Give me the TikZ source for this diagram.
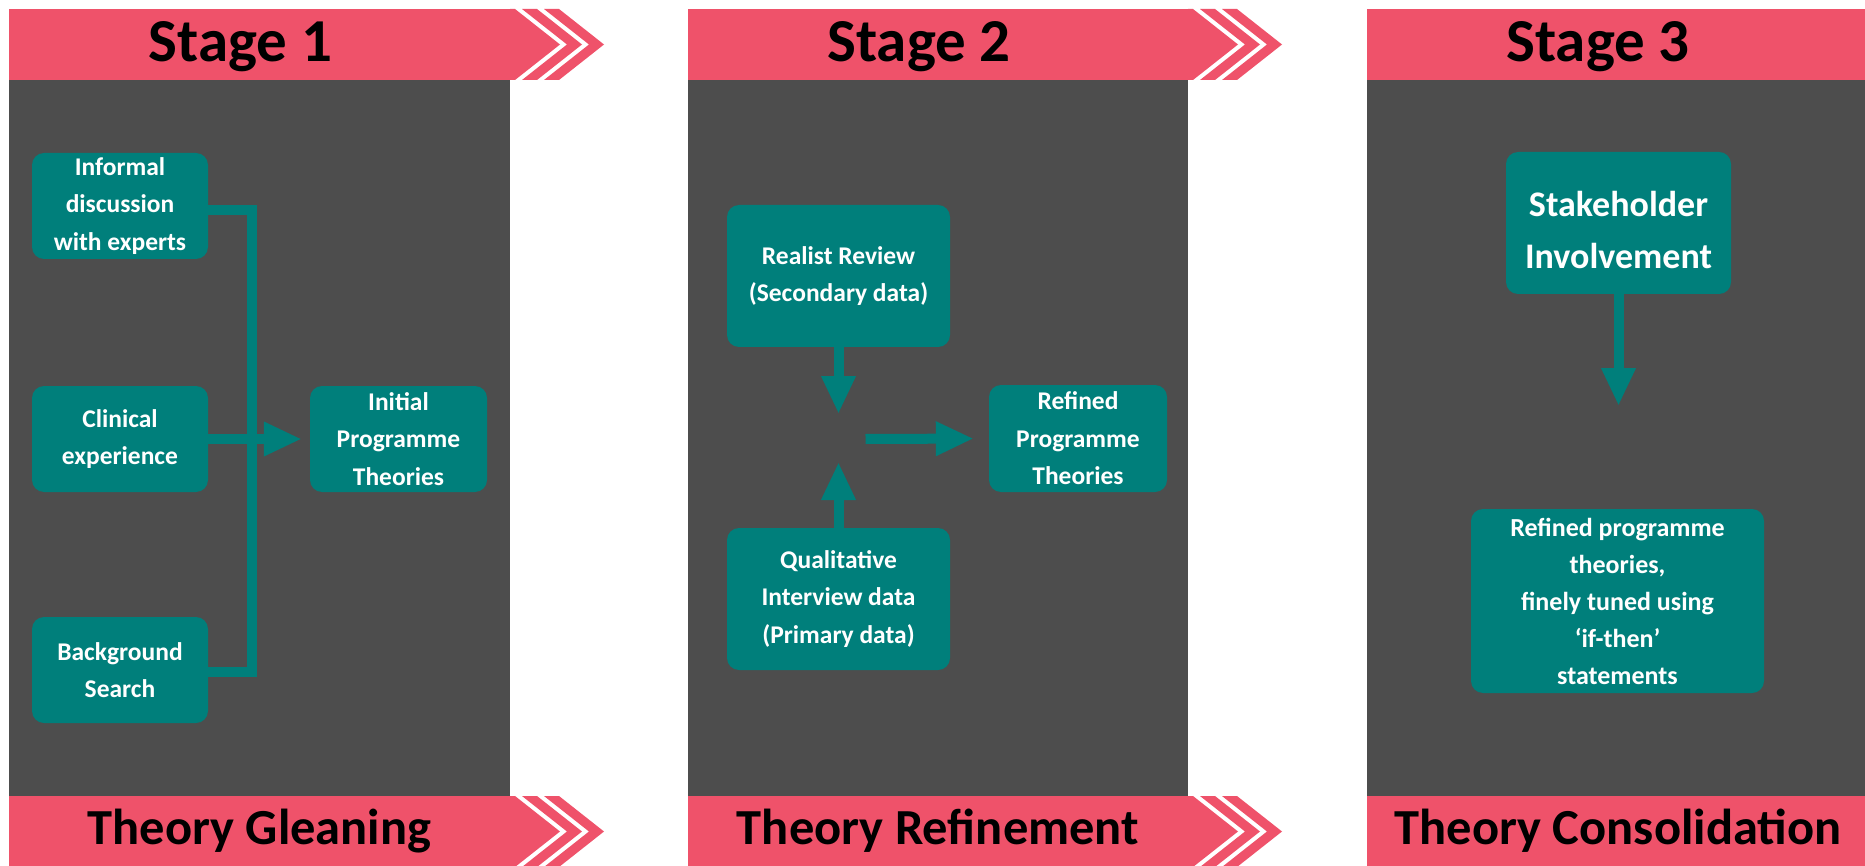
\documentclass[tikz,border=0pt]{standalone}
\usepackage{fontspec}
\setmainfont{Carlito}
\usetikzlibrary{arrows.meta}

\definecolor{bandpink}{RGB}{239,82,106}
\definecolor{paneldark}{RGB}{77,77,77}
\definecolor{boxteal}{RGB}{0,127,123}

\newcommand\stageboxfont{\fontsize{25.5}{37.5}\selectfont\bfseries}
\newcommand\stagetitlefont{\fontsize{61}{66}\selectfont\bfseries}
\newcommand\phasetitlefont{\fontsize{50.5}{56}\selectfont\bfseries}

% pink arrow-chevrons at the right end of a band; #1 = band end x, #2 = band top y
\newcommand\bandchevrons[2]{%
  \begin{scope}[shift={(#1,#2)}]
    \fill[bandpink] (0,0) -- (5,0) -- (50,35.5) -- (5,71) -- (0,71) -- cycle;
    \fill[bandpink] (12,0) -- (27,0) -- (72,35.5) -- (27,71) -- (12,71) -- (57,35.5) -- cycle;
    \fill[bandpink] (34,0) -- (49,0) -- (94,35.5) -- (49,71) -- (34,71) -- (79,35.5) -- cycle;
  \end{scope}}

\tikzset{
  stagebox/.style={fill=boxteal, rounded corners=12pt, text=white, align=center,
    inner sep=0pt, font=\stageboxfont},
  stagetitle/.style={anchor=base, text=black, inner sep=0pt, font=\stagetitlefont},
  phasetitle/.style={anchor=base, text=black, inner sep=0pt, font=\phasetitlefont},
  spine/.style={draw=boxteal, line width=10pt, line join=miter},
  flow/.style={draw=boxteal, line width=10pt, -{Triangle[length=38pt,width=32pt]}},
}

\begin{document}
\begin{tikzpicture}[x=1pt, y=-1pt]
  \useasboundingbox (0,0) rectangle (1865,866);
  \fill[white] (0,0) rectangle (1865,866);

  % dark panels
  \fill[paneldark] (9,80) rectangle (510,796);
  \fill[paneldark] (688,80) rectangle (1188,796);
  \fill[paneldark] (1367,80) rectangle (1865,796);

  % top bands
  \fill[bandpink] (9,9) rectangle (510,80);
  \fill[bandpink] (688,9) rectangle (1188,80);
  \fill[bandpink] (1367,9) rectangle (1865,80);
  \bandchevrons{510}{9}
  \bandchevrons{1188}{9}

  % bottom bands
  \fill[bandpink] (9,796) rectangle (510,866);
  \fill[bandpink] (688,796) rectangle (1188,866);
  \fill[bandpink] (1367,796) rectangle (1865,866);
  \bandchevrons{510}{796}
  \bandchevrons{1188}{796}

  % band titles
  \node[stagetitle] (t1) at (240.5,62) {Stage 1};
  \node[stagetitle] (t2) at (919,62) {Stage 2};
  \node[stagetitle] (t3) at (1598,62) {Stage 3};
  \node[phasetitle] (b1) at (259.5,844) {Theory Gleaning};
  \node[phasetitle] (b2) at (938,844) {Theory Refinement};
  \node[phasetitle] (b3) at (1618,844) {Theory Consolidation};

  % Stage 1
  \node[stagebox, minimum width=176pt, minimum height=106pt] (inf) at (120,206)
    {Informal\\discussion\\with experts};
  \node[stagebox, minimum width=176pt, minimum height=106pt] (cli) at (120,439)
    {Clinical\\experience};
  \node[stagebox, minimum width=176pt, minimum height=106pt] (bgs) at (120,670)
    {Background\\Search};
  \node[stagebox, minimum width=177pt, minimum height=106pt] (ini) at (398.5,439)
    {Initial\\Programme\\Theories};
  \coordinate (spinetop) at (252,210);
  \coordinate (spinebot) at (252,672);
  \draw[spine] (inf.east |- spinetop) -- (spinetop) -- (spinebot) -- (bgs.east |- spinebot);
  \draw[flow, shorten >=8pt] (cli.east) -- (ini.west);

  % Stage 2
  \node[stagebox, minimum width=223pt, minimum height=142pt] (rr) at (838.5,276)
    {Realist Review\\(Secondary data)};
  \node[stagebox, minimum width=223pt, minimum height=142pt] (qi) at (838.5,599)
    {Qualitative\\Interview data\\(Primary data)};
  \node[stagebox, minimum width=178pt, minimum height=107pt] (rpt) at (1078,438.5)
    {Refined\\Programme\\Theories};
  \coordinate (hub) at (838.5,439);
  \draw[flow] (rr.south) -- ([yshift=25pt]hub);
  \draw[flow] (qi.north) -- ([yshift=-23pt]hub);
  \draw[flow, shorten >=15pt] ([xshift=27pt]hub) -- (rpt.west);

  % Stage 3
  \node[stagebox, minimum width=225pt, minimum height=142pt,
        font=\fontsize{36}{52}\selectfont\bfseries] (shi) at (1618.5,223)
    {\rule{0pt}{40pt}Stakeholder\\Involvement};
  \node[stagebox, minimum width=293pt, minimum height=184pt,
        font=\fontsize{26}{37}\selectfont\bfseries] (rp3) at (1617.5,601)
    {Refined programme\\theories,\\finely tuned using\\‘if-then’\\statements};
  \coordinate (shiend) at (1618.5,406);
  \draw[flow] (shi.south) -- (shiend);
\end{tikzpicture}
\end{document}
